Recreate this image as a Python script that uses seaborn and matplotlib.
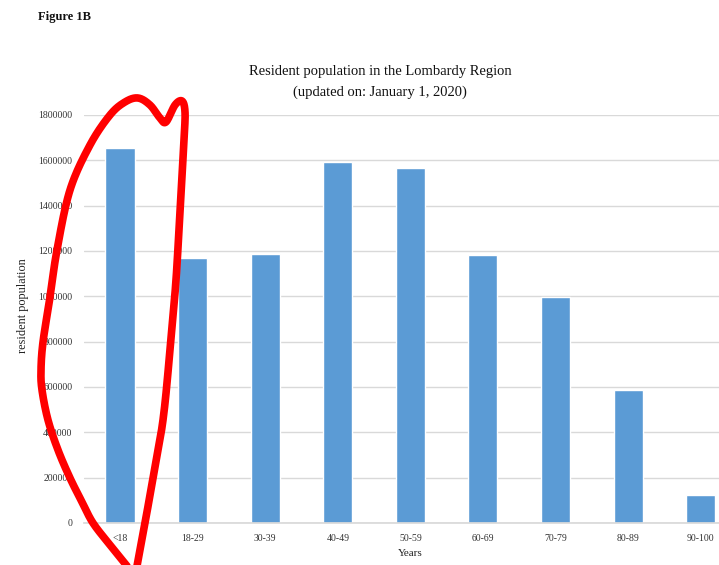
import numpy as np
import pandas as pd
import matplotlib
matplotlib.use("Agg")
import matplotlib.pyplot as plt
import seaborn as sns

# Resident population by age group (Lombardy, 1 Jan 2020)
age_groups = ["<18", "18-29", "30-39", "40-49", "50-59", "60-69", "70-79", "80-89", "90-100"]
population = [1654000, 1169000, 1187000, 1592000, 1566000, 1182000, 997000, 587000, 124000]
y_ticks = [0, 200000, 400000, 600000, 800000, 1000000, 1200000, 1400000, 1600000, 1800000]

# hand-drawn red loop around the first bar (pixel coords, y from top)
loop_x = [137, 145, 153, 163, 170, 176, 180, 184, 185, 182, 175, 166, 160, 150, 138, 125,
          110, 90, 70, 57, 50, 43, 41, 42, 48, 58, 70, 82, 93, 110, 127]
loop_y = [566, 523, 478, 420, 350, 280, 210, 140, 112, 101, 105, 122, 118, 105, 98, 102,
          115, 145, 190, 250, 297, 342, 370, 390, 420, 450, 478, 502, 523, 545, 566]


def catmull_rom(xs, ys, n=20):
    pts = np.column_stack([xs, ys]).astype(float)
    pts = np.vstack([pts[0], pts, pts[-1]])
    out = []
    for i in range(1, len(pts) - 2):
        p0, p1, p2, p3 = pts[i - 1], pts[i], pts[i + 1], pts[i + 2]
        for t in np.linspace(0, 1, n, endpoint=False):
            t2, t3 = t * t, t * t * t
            out.append(0.5 * ((2 * p1) + (-p0 + p2) * t + (2 * p0 - 5 * p1 + 4 * p2 - p3) * t2
                              + (-p0 + 3 * p1 - 3 * p2 + p3) * t3))
    out.append(pts[-2])
    return np.array(out)


df = pd.DataFrame({"age": age_groups, "pop": population})

sns.set_theme(style="white")
plt.rcParams["font.family"] = ["Liberation Serif", "DejaVu Serif"]

W, H = 719, 565
fig = plt.figure(figsize=(W / 100, H / 100), dpi=100)
ax = fig.add_axes([83.7 / W, (H - 523) / H, (737 - 83.7) / W, (523 - 115) / H])

sns.barplot(data=df, x="age", y="pop", color="#5b9bd5", saturation=1, width=0.4, ax=ax)

ax.set_ylim(0, 1800000)
ax.set_yticks(y_ticks)
ax.set_yticklabels([str(v) for v in y_ticks], fontsize=7, color="#333333")
ax.tick_params(axis="x", labelsize=7, colors="#333333", length=0, pad=8)
ax.tick_params(axis="y", length=0, pad=8)
ax.yaxis.grid(True, color="#d9d9d9", linewidth=1)
ax.set_axisbelow(True)
for s in ["top", "right", "left"]:
    ax.spines[s].set_visible(False)
ax.spines["bottom"].set_color("#d9d9d9")
ax.set_xlabel("Years", fontsize=8, color="#222222", labelpad=4)
ax.set_ylabel("resident population", fontsize=8.8, color="#222222")
ax.yaxis.set_label_coords(-0.083, 0.534)

fig.text(380 / W, 1 - 72 / H, "Resident population in the Lombardy Region",
         ha="center", va="center", fontsize=10.5, color="#111111")
fig.text(380 / W, 1 - 92 / H, "(updated on: January 1, 2020)",
         ha="center", va="center", fontsize=10.5, color="#111111")
fig.text(38 / W, 1 - 17 / H, "Figure 1B", ha="left", va="center",
         fontsize=9, fontweight="bold", color="#111111")

curve = catmull_rom(loop_x, loop_y)
fig.add_artist(plt.Line2D(curve[:, 0] / W, 1 - curve[:, 1] / H, transform=fig.transFigure,
                          color="#ff0000", linewidth=5.5, solid_capstyle="round",
                          solid_joinstyle="round"))

fig.savefig("out.png", dpi=100)
